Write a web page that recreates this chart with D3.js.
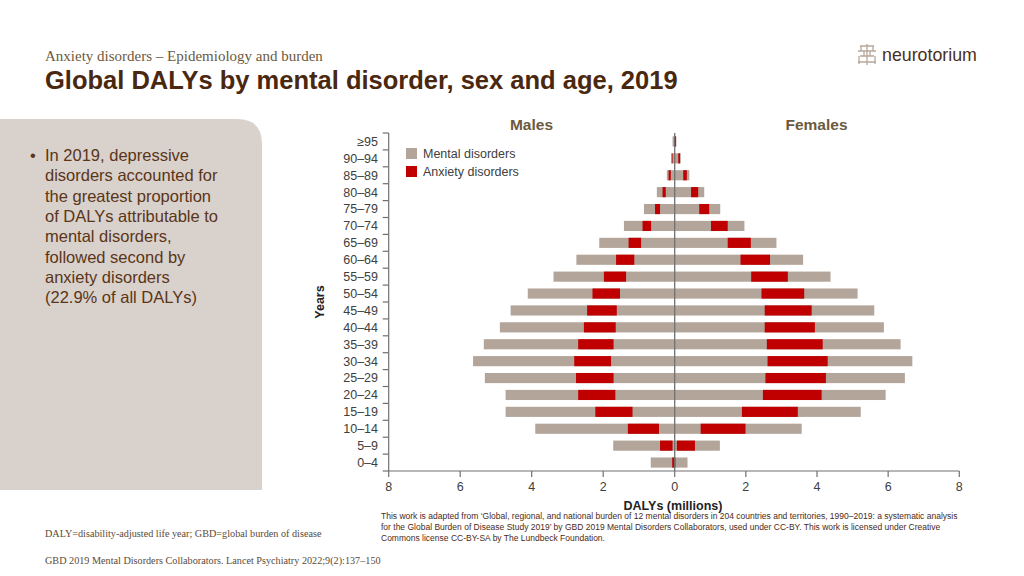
<!DOCTYPE html>
<html><head><meta charset="utf-8">
<script src="https://cdn.jsdelivr.net/npm/d3@7"></script>
<style>
html,body{margin:0;padding:0;background:#fff;}
svg{display:block;}
</style></head>
<body>
<svg id="c" width="1024" height="576"></svg>
<script>
// ---- data (DALYs, millions) ----
const ageGroups = ["≥95","90–94","85–89","80–84","75–79","70–74","65–69","60–64","55–59","50–54","45–49","40–44","35–39","30–34","25–29","20–24","15–19","10–14","5–9","0–4"];
const maleTotal      = [0.06,0.10,0.22,0.50,0.86,1.42,2.11,2.75,3.39,4.11,4.59,4.89,5.34,5.64,5.31,4.73,4.73,3.90,1.72,0.67];
const maleAnxStart   = [0.00,0.06,0.11,0.25,0.41,0.66,0.94,1.13,1.36,1.53,1.62,1.65,1.71,1.78,1.71,1.66,1.18,0.44,0.06,0.00];
const maleAnxEnd     = [0.02,0.08,0.17,0.34,0.55,0.90,1.29,1.64,1.98,2.30,2.45,2.54,2.70,2.81,2.76,2.70,2.22,1.31,0.41,0.07];
const femaleTotal    = [0.04,0.17,0.41,0.83,1.28,1.96,2.86,3.61,4.38,5.14,5.61,5.88,6.35,6.68,6.47,5.93,5.23,3.57,1.27,0.36];
const femaleAnxStart = [0.00,0.10,0.24,0.46,0.69,1.02,1.49,1.85,2.15,2.44,2.53,2.53,2.59,2.61,2.55,2.48,1.89,0.73,0.06,0.00];
const femaleAnxEnd   = [0.04,0.15,0.34,0.66,0.97,1.49,2.14,2.68,3.18,3.64,3.85,3.94,4.16,4.30,4.25,4.13,3.46,1.99,0.57,0.02];
const xTicks = [0,2,4,6,8];
const legendLabels = ["Mental disorders","Anxiety disorders"];

const GRAY = "#b3a59a", RED = "#c00000";
const svg = d3.select("#c");

// ---- slide decoration ----
svg.append("text").attr("x",45).attr("y",61).attr("font-family","'Liberation Serif',serif")
  .attr("font-size",15).attr("fill","#6b5a40").text("Anxiety disorders – Epidemiology and burden");
svg.append("text").attr("x",45).attr("y",89).attr("font-family","'Liberation Sans',Arial,sans-serif")
  .attr("font-weight","bold").attr("font-size",25.5).attr("fill","#4a2810").text("Global DALYs by mental disorder, sex and age, 2019");

// logo
const lg = svg.append("g").attr("transform","translate(857,44)").attr("stroke","#b8a89a").attr("fill","none").attr("stroke-width",1.3);
lg.append("path").attr("d","M10 0 V21 M3 2 H17 M1 7 H19 M3 12 H17 M1 18 H19 M4 2 V7 M16 2 V7 M2 12 V20 M18 12 V20 M7 7 V12 M13 7 V12");
svg.append("text").attr("x",882).attr("y",61).attr("font-family","'Liberation Sans',Arial,sans-serif")
  .attr("font-size",17.8).attr("fill","#4a3020").text("neurotorium");

// left panel
svg.append("path").attr("d","M0 119 H237 Q262 119 262 144 V490 H0 Z").attr("fill","#d9d1cb");
const bulletLines = ["In 2019, depressive","disorders accounted for","the greatest proportion","of DALYs attributable to","mental disorders,","followed second by","anxiety disorders","(22.9% of all DALYs)"];
svg.append("text").attr("x",30).attr("y",161).attr("font-family","'Liberation Sans',Arial,sans-serif")
  .attr("font-size",16.5).attr("fill","#5a3518").text("•");
bulletLines.forEach((t,i)=>{
  svg.append("text").attr("x",45).attr("y",161+i*20.3).attr("font-family","'Liberation Sans',Arial,sans-serif")
    .attr("font-size",16.5).attr("fill","#5a3518").text(t);
});

// footnotes
svg.append("text").attr("x",45).attr("y",537).attr("font-family","'Liberation Serif',serif")
  .attr("font-size",10.2).attr("fill","#5a4a38").text("DALY=disability-adjusted life year; GBD=global burden of disease");
svg.append("text").attr("x",45).attr("y",564).attr("font-family","'Liberation Serif',serif")
  .attr("font-size",10.2).attr("fill","#5a4a38").text("GBD 2019 Mental Disorders Collaborators. Lancet Psychiatry 2022;9(2):137–150");
const credit = ["This work is adapted from ‘Global, regional, and national burden of 12 mental disorders in 204 countries and territories, 1990–2019: a systematic analysis",
 "for the Global Burden of Disease Study 2019’ by GBD 2019 Mental Disorders Collaborators, used under CC-BY. This work is licensed under Creative",
 "Commons license CC-BY-SA by The Lundbeck Foundation."];
credit.forEach((t,i)=>{
  svg.append("text").attr("x",381).attr("y",519+i*10.8).attr("font-family","'Liberation Sans',Arial,sans-serif")
    .attr("font-size",8.5).attr("fill","#4a2a18").text(t);
});

// ---- chart ----
const x0 = 674.7, xL = 388.7, xR = 959.3, yTop = 133, yBot = 471;
const xMale = d3.scaleLinear().domain([0,8]).range([x0,xL]);
const xFem  = d3.scaleLinear().domain([0,8]).range([x0,xR]);
const y = d3.scaleBand().domain(ageGroups).range([yTop,yBot]).paddingInner(0.4).paddingOuter(0.2);
const yb = d3.scaleBand().domain(ageGroups).range([yTop,yBot]);

const rows = ageGroups.map((a,i)=>({a,mt:maleTotal[i],ms:maleAnxStart[i],me:maleAnxEnd[i],ft:femaleTotal[i],fs:femaleAnxStart[i],fe:femaleAnxEnd[i]}));

const g = svg.append("g");
g.selectAll(".mg").data(rows).join("rect").attr("fill",GRAY)
  .attr("x",d=>xMale(d.mt)).attr("width",d=>xMale(0)-xMale(d.mt)).attr("y",d=>y(d.a)).attr("height",y.bandwidth());
g.selectAll(".fg").data(rows).join("rect").attr("fill",GRAY)
  .attr("x",xFem(0)).attr("width",d=>xFem(d.ft)-xFem(0)).attr("y",d=>y(d.a)).attr("height",y.bandwidth());
g.selectAll(".mr").data(rows).join("rect").attr("fill",RED)
  .attr("x",d=>xMale(d.me)).attr("width",d=>xMale(d.ms)-xMale(d.me)).attr("y",d=>y(d.a)).attr("height",y.bandwidth());
g.selectAll(".fr").data(rows).join("rect").attr("fill",RED)
  .attr("x",d=>xFem(d.fs)).attr("width",d=>xFem(d.fe)-xFem(d.fs)).attr("y",d=>y(d.a)).attr("height",y.bandwidth());

// center line
svg.append("line").attr("x1",x0).attr("x2",x0).attr("y1",yTop).attr("y2",yBot).attr("stroke","#707070").attr("stroke-width",1.3);

const axisColor = "#707070", labColor = "#404040";
// y axis
const ya = svg.append("g");
ya.append("line").attr("x1",xL).attr("x2",xL).attr("y1",yTop).attr("y2",yBot).attr("stroke",axisColor).attr("stroke-width",1.2);
const bounds = ageGroups.map(a=>yb(a)).concat([yBot]);
ya.selectAll(".yt").data(bounds).join("line").attr("x1",xL-6).attr("x2",xL).attr("y1",d=>d).attr("y2",d=>d).attr("stroke",axisColor).attr("stroke-width",1.2);
ya.selectAll(".yl").data(ageGroups).join("text").attr("x",378).attr("y",d=>y(d)+y.bandwidth()/2).attr("dy","0.35em")
  .attr("text-anchor","end").attr("font-family","'Liberation Sans',Arial,sans-serif").attr("font-size",12.5).attr("fill",labColor).text(d=>d);

// x axis
const xa = svg.append("g");
xa.append("line").attr("x1",xL).attr("x2",xR).attr("y1",yBot).attr("y2",yBot).attr("stroke",axisColor).attr("stroke-width",1.2);
const tickPos = xTicks.map(v=>({v,x:xMale(v)})).concat(xTicks.filter(v=>v>0).map(v=>({v,x:xFem(v)})));
xa.selectAll(".xt").data(tickPos).join("line").attr("x1",d=>d.x).attr("x2",d=>d.x).attr("y1",yBot).attr("y2",yBot+6).attr("stroke",axisColor).attr("stroke-width",1.2);
xa.selectAll(".xl").data(tickPos).join("text").attr("x",d=>d.x).attr("y",yBot+15.5).attr("dy","0.35em").attr("text-anchor","middle")
  .attr("font-family","'Liberation Sans',Arial,sans-serif").attr("font-size",12.5).attr("fill",labColor).text(d=>d.v);

// titles
svg.append("text").attr("x",531.5).attr("y",130).attr("text-anchor","middle").attr("font-family","'Liberation Sans',Arial,sans-serif")
  .attr("font-weight","bold").attr("font-size",15.5).attr("fill","#6b5a3e").text("Males");
svg.append("text").attr("x",816.5).attr("y",130).attr("text-anchor","middle").attr("font-family","'Liberation Sans',Arial,sans-serif")
  .attr("font-weight","bold").attr("font-size",15.5).attr("fill","#6b5a3e").text("Females");
svg.append("text").attr("x",673).attr("y",510).attr("text-anchor","middle").attr("font-family","'Liberation Sans',Arial,sans-serif")
  .attr("font-weight","bold").attr("font-size",12.5).attr("fill","#222").text("DALYs (millions)");
svg.append("text").attr("transform","translate(324,302) rotate(-90)").attr("text-anchor","middle").attr("font-family","'Liberation Sans',Arial,sans-serif")
  .attr("font-weight","bold").attr("font-size",12.5).attr("fill","#222").text("Years");

// legend
const leg = svg.append("g");
[GRAY,RED].forEach((c,i)=>{
  leg.append("rect").attr("x",406).attr("y",148+i*18).attr("width",11).attr("height",11).attr("fill",c);
  leg.append("text").attr("x",423).attr("y",153.5+i*18).attr("dy","0.35em").attr("font-family","'Liberation Sans',Arial,sans-serif")
    .attr("font-size",12.5).attr("fill","#404040").text(legendLabels[i]);
});
</script>
</body></html>
